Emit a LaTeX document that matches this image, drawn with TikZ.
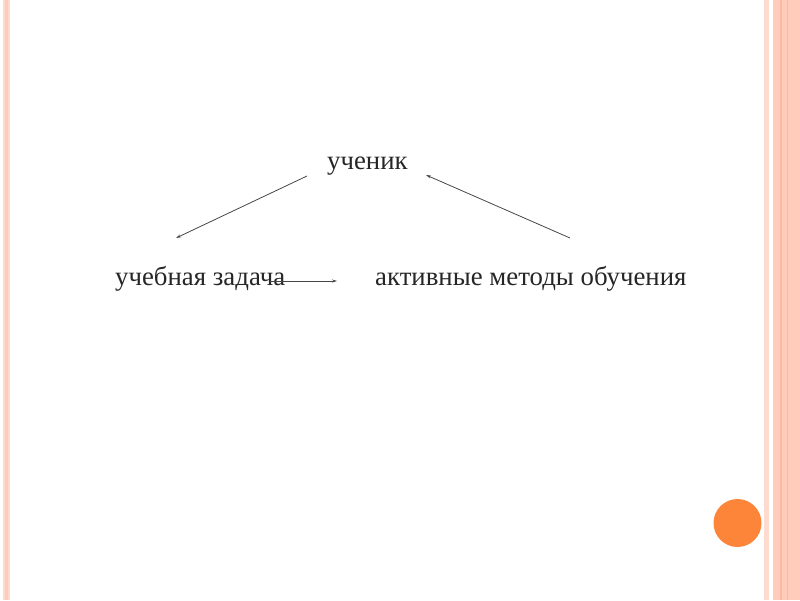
\documentclass[tikz,border=0pt]{standalone}
\usepackage{fontspec}
\setmainfont{Liberation Serif}
\usepackage{tikz}
\usetikzlibrary{arrows.meta,positioning}
\definecolor{stripcol}{RGB}{255,203,186}
\definecolor{stripdark}{RGB}{250,185,162}
\definecolor{striplight}{RGB}{255,218,206}
\definecolor{dotcol}{RGB}{253,133,58}
\definecolor{arrcol}{RGB}{70,70,70}

\begin{document}
\begin{tikzpicture}[x=1pt,y=-1pt,>={Stealth[length=5pt,width=3pt]},
  word/.style={anchor=base west,inner sep=0pt,text=black!85,font=\fontsize{26.8}{31}\selectfont},
  link/.style={->,arrcol,line width=0.8pt}]
  \useasboundingbox (0,0) rectangle (800,600);
  % frame strips
  \fill[striplight] (3,0) rectangle (10,600);
  \fill[stripcol] (5,0) rectangle (8,600);
  \fill[striplight] (764,0) rectangle (769,600);
  \fill[stripcol] (773,0) rectangle (800,600);
  \fill[stripdark] (780,0) rectangle (781.5,600);
  \fill[stripdark] (787,0) rectangle (788,600);
  \fill[dotcol] (737.5,523) circle (24);
  % words
  \node[word] (u) at (327,169) {ученик};
  \node[word] (z) at (115,285) {учебная задача};
  \node[word] (m) at (375,285) {активные методы обучения};
  \coordinate (u1) at (307,176);
  \coordinate (z1) at (176,238);
  \coordinate (m1) at (570,238);
  \coordinate (u2) at (426,175);
  \coordinate (zr) at (270,281);
  \coordinate (ml) at (337,281);
  \draw[link] (u1)--(z1);
  \draw[link] (m1)--(u2);
  \draw[link] (zr)--(ml);
\end{tikzpicture}
\end{document}
